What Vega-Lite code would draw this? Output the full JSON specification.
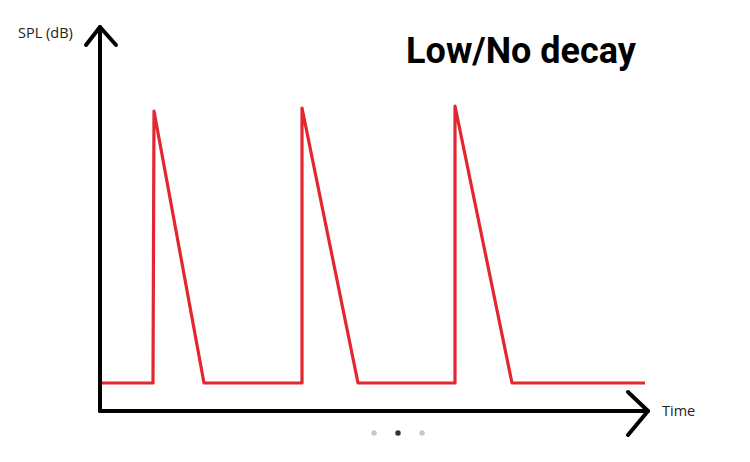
{
  "$schema": "https://vega.github.io/schema/vega-lite/v6.json",
  "width": 750,
  "height": 462,
  "padding": 0,
  "autosize": {"type": "fit", "contains": "padding"},
  "background": "white",
  "config": {"view": {"stroke": null}},
  "datasets": {
    "axes": [
      {"path": "yaxis", "i": 0, "t": 0, "spl": 0},
      {"path": "yaxis", "i": 1, "t": 0, "spl": 384},
      {"path": "yarrow", "i": 0, "t": -14, "spl": 366},
      {"path": "yarrow", "i": 1, "t": 0, "spl": 384},
      {"path": "yarrow", "i": 2, "t": 16, "spl": 366},
      {"path": "xaxis", "i": 0, "t": 0, "spl": 0},
      {"path": "xaxis", "i": 1, "t": 548, "spl": 0},
      {"path": "xarrow", "i": 0, "t": 528, "spl": 19},
      {"path": "xarrow", "i": 1, "t": 548, "spl": 0},
      {"path": "xarrow", "i": 2, "t": 528, "spl": -24}
    ],
    "signal": [
      {"i": 0, "t": 2, "spl": 28},
      {"i": 1, "t": 53, "spl": 28},
      {"i": 2, "t": 54, "spl": 300},
      {"i": 3, "t": 104, "spl": 28},
      {"i": 4, "t": 202, "spl": 28},
      {"i": 5, "t": 202, "spl": 303},
      {"i": 6, "t": 258, "spl": 28},
      {"i": 7, "t": 355, "spl": 28},
      {"i": 8, "t": 355, "spl": 305},
      {"i": 9, "t": 412, "spl": 28},
      {"i": 10, "t": 545, "spl": 28}
    ],
    "labels": [
      {"text": "Low/No decay", "t": 421, "spl": 348, "kind": "title"},
      {"text": "SPL (dB)", "t": -82, "spl": 373, "kind": "axis"},
      {"text": "Time", "t": 562, "spl": -5, "kind": "axis"}
    ],
    "dots": [
      {"t": 274, "spl": -22, "active": false},
      {"t": 298, "spl": -22, "active": true},
      {"t": 322, "spl": -22, "active": false}
    ]
  },
  "layer": [
    {
      "data": {"name": "signal"},
      "mark": {"type": "line", "color": "#e3262f", "strokeWidth": 3.2, "strokeJoin": "round", "strokeCap": "butt"},
      "encoding": {
        "x": {"field": "t", "type": "quantitative", "scale": {"domain": [-100, 650], "zero": false, "nice": false}, "axis": null},
        "y": {"field": "spl", "type": "quantitative", "scale": {"domain": [-51, 411], "zero": false, "nice": false}, "axis": null},
        "order": {"field": "i"}
      }
    },
    {
      "data": {"name": "axes"},
      "mark": {"type": "line", "color": "black", "strokeWidth": 4, "strokeJoin": "round", "strokeCap": "round"},
      "encoding": {
        "x": {"field": "t", "type": "quantitative"},
        "y": {"field": "spl", "type": "quantitative"},
        "detail": {"field": "path"},
        "order": {"field": "i"}
      }
    },
    {
      "data": {"name": "labels"},
      "transform": [{"filter": "datum.kind === 'title'"}],
      "mark": {"type": "text", "font": "Roboto", "fontWeight": "bold", "fontSize": 36, "align": "center", "baseline": "alphabetic", "color": "black"},
      "encoding": {
        "x": {"field": "t", "type": "quantitative"},
        "y": {"field": "spl", "type": "quantitative"},
        "text": {"field": "text"}
      }
    },
    {
      "data": {"name": "labels"},
      "transform": [{"filter": "datum.kind === 'axis'"}],
      "mark": {"type": "text", "font": "Open Sans", "fontSize": 14.5, "align": "left", "baseline": "alphabetic", "color": "#222"},
      "encoding": {
        "x": {"field": "t", "type": "quantitative"},
        "y": {"field": "spl", "type": "quantitative"},
        "text": {"field": "text"}
      }
    },
    {
      "data": {"name": "dots"},
      "mark": {"type": "circle", "size": 30, "opacity": 1},
      "encoding": {
        "x": {"field": "t", "type": "quantitative"},
        "y": {"field": "spl", "type": "quantitative"},
        "color": {"field": "active", "type": "nominal", "scale": {"domain": [false, true], "range": ["#c8c8c8", "#333333"]}, "legend": null}
      }
    }
  ]
}
